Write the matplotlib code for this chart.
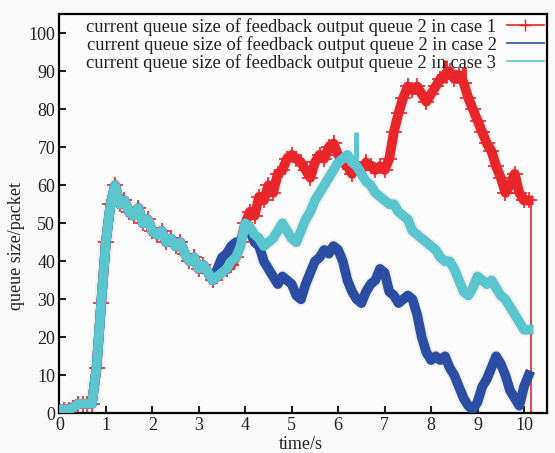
import numpy as np
import matplotlib
matplotlib.use("Agg")
import matplotlib.pyplot as plt

t = np.round(np.arange(0.1, 10.15, 0.1), 2)

# first part (0.1 .. 3.3 s) is the same for all three cases
common = [1, 1, 1.5, 2.5, 2.5, 2.5, 2.5, 12, 29, 45,
          55, 60, 55, 56, 53, 52, 54, 50, 51, 48,
          47, 48, 45, 46, 44, 45, 42, 40, 41, 38,
          39, 37, 35]

case1_tail = [36, 37, 38, 39, 41, 45, 50, 53, 52, 57,
              56, 60, 58, 63, 64, 67, 68, 67, 66, 64,
              62, 66, 68, 67, 70, 71, 68, 66, 65, 63,
              65, 64, 66, 65, 64, 65, 64, 67, 74, 79,
              83, 86, 85, 86, 84, 82, 84, 86, 88, 89,
              90, 88, 89, 87, 83, 80, 77, 74, 71, 69,
              65, 62, 58, 60, 63, 58, 56, 56]

case2_tail = [38, 41, 42, 44, 45, 45, 49, 48, 45, 44,
              40, 38, 36, 34, 36, 35, 34, 31, 30, 34,
              37, 40, 41, 43, 42, 44, 43, 40, 35, 32,
              30, 29, 32, 34, 35, 38, 37, 32, 31, 29,
              30, 31, 30, 26, 20, 16, 14, 15, 14, 15,
              12, 10, 7, 4, 2, 1, 3, 7, 9, 12,
              15, 13, 10, 6, 4, 2, 7, 10]

case3_tail = [36, 37, 38, 40, 41, 44, 50, 49, 47, 46,
              44, 45, 46, 48, 50, 48, 46, 45, 48, 51,
              53, 56, 58, 60, 62, 64, 66, 67, 68, 66,
              65, 63, 61, 60, 58, 57, 56, 55, 55, 53,
              52, 51, 48, 47, 46, 45, 44, 43, 41, 40,
              40, 38, 35, 32, 31, 33, 36, 35, 34, 35,
              33, 31, 30, 28, 26, 24, 22, 22]

case1 = common + case1_tail
case2 = common + case2_tail
case3 = common + case3_tail

# case 1 queue is emptied at the end of the run
drop_t = [10.1, 10.15, 10.15]
drop_q = [56, 56, 0]

# a few tall spikes of the noisy traces (time, low, high)
spikes_case1 = [(8.3, 87, 93), (8.7, 86, 91)]
spikes_case3 = [(6.38, 65, 74)]

labels = ["current queue size of feedback output queue 2 in case 1",
          "current queue size of feedback output queue 2 in case 2",
          "current queue size of feedback output queue 2 in case 3"]

red = "#e8262a"
blue = "#2b4ea2"
cyan = "#5ac5cf"
halo = "#f0f0f0"

plt.rcParams["font.family"] = ["Liberation Serif", "DejaVu Serif"]

fig = plt.figure(figsize=(5.55, 4.53), dpi=100, facecolor="#f9f9f9")
ax = fig.add_axes([0.107, 0.0876, 0.879, 0.881], facecolor="#fcfcfc")


def spikes(lst, col, z):
    ax.vlines([s[0] for s in lst], [s[1] for s in lst], [s[2] for s in lst],
              color=col, lw=3.5, zorder=z)


# faint grey shadow round the traces
for series in (case1, case2, case3):
    ax.plot(t, series, color=halo, lw=10, solid_capstyle="round", zorder=1)

ax.plot(t, case1, color=red, lw=7, marker="+", ms=11, mew=1.2, zorder=2)
ax.plot(drop_t, drop_q, color=red, lw=1.2, marker="+", ms=4, zorder=2)
spikes(spikes_case1, red, 2)
ax.plot(t, case2, color=blue, lw=7, zorder=3)
ax.plot(t, case3, color=cyan, lw=7, zorder=4)
spikes(spikes_case3, cyan, 4)

# legend entries (thin line samples like gnuplot)
h1, = ax.plot([], [], color=red, lw=1.2, marker="+", ms=8, markevery=[1])
h2, = ax.plot([], [], color=blue, lw=1.2)
h3, = ax.plot([], [], color=cyan, lw=1.2)
leg = ax.legend([h1, h2, h3], labels, loc="upper right", frameon=False,
                fontsize=13.3, markerfirst=False, handlelength=2.0,
                labelspacing=0.0, borderaxespad=0.1, borderpad=0.1,
                handletextpad=0.55)
for txt in leg.get_texts():
    txt.set_color("#222222")

ax.set_xlim(0, 10.5)
ax.set_ylim(0, 105)
ax.set_xticks(range(0, 11))
ax.set_yticks(range(0, 101, 10))
ax.tick_params(direction="in", length=5, width=1.5, labelsize=13,
               colors="#222222", pad=3)
for s in ax.spines.values():
    s.set_linewidth(1.6)

ax.set_xlabel("time/s", fontsize=13, color="#222222")
ax.set_ylabel("queue size/packet", fontsize=13, color="#222222")
ax.xaxis.set_label_coords(0.495, -0.058)
ax.yaxis.set_label_coords(-0.07, 0.42)

fig.savefig("out.png", dpi=100, facecolor=fig.get_facecolor())
